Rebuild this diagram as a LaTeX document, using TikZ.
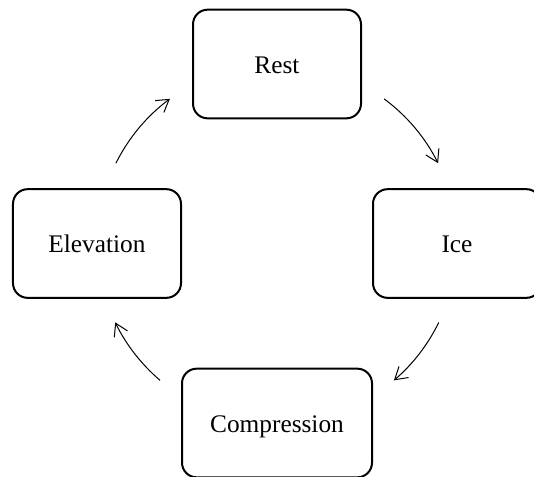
\documentclass[tikz,border=0pt]{standalone}
\usepackage{fontspec}
\setmainfont{Liberation Serif}
\usetikzlibrary{arrows.meta}
\begin{document}
\begin{tikzpicture}[x=0.75pt,y=0.75pt,
  stagebox/.style={draw=black, line width=1.5pt, rounded corners=11pt,
    minimum width=126pt, minimum height=81.5pt, align=center, inner sep=0pt,
    text height=14pt, text depth=0pt,
    font=\fontsize{19}{23}\selectfont},
  cyclearrow/.style={line width=0.75pt, -{Straight Barb[length=9pt,width=11pt,line width=0.75pt]}}]
\clip (-277,-232.5) rectangle (257,243.5);
\coordinate (center) at (0,0);
\node[stagebox] (rest) at (0,179.5) {Rest};
\node[stagebox] (ice) at (180,0) {Ice};
\node[stagebox, minimum width=142.5pt] (compression) at (0,-179.5) {Compression};
\node[stagebox] (elevation) at (-180,0) {Elevation};
\coordinate (a1s) at (53.5:180);
\coordinate (a2s) at (-26:180);
\coordinate (a3s) at (-130.5:180);
\coordinate (a4s) at (153.5:180);
\draw[cyclearrow] (a1s) arc[start angle=53.5, end angle=26.5, radius=180];
\draw[cyclearrow] (a2s) arc[start angle=-26, end angle=-49.5, radius=180];
\draw[cyclearrow] (a3s) arc[start angle=-130.5, end angle=-154, radius=180];
\draw[cyclearrow] (a4s) arc[start angle=153.5, end angle=126.5, radius=180];
\end{tikzpicture}
\end{document}
